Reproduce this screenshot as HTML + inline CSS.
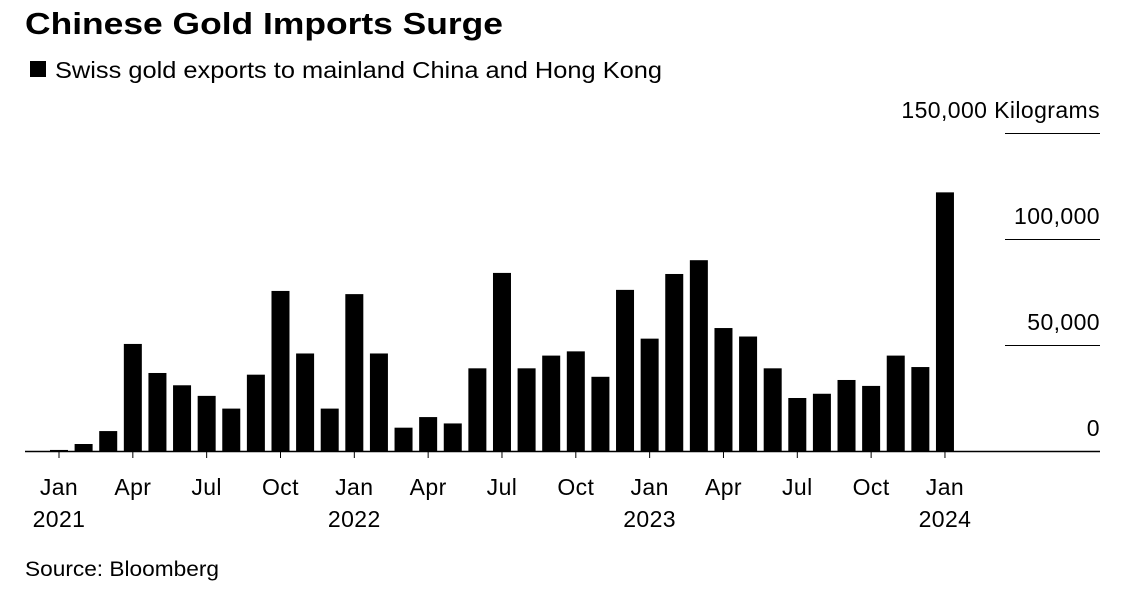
<!DOCTYPE html>
<html><head><meta charset="utf-8"><style>
body{margin:0;background:#fff;font-family:"Liberation Sans",Arial,sans-serif;}
svg text{font-family:"Liberation Sans",Arial,sans-serif;fill:#000;}
</style></head><body>
<svg width="1127" height="589" xmlns="http://www.w3.org/2000/svg">
<text x="25" y="34" font-size="31" font-weight="bold" textLength="478" lengthAdjust="spacingAndGlyphs">Chinese Gold Imports Surge</text>
<rect x="30" y="61" width="16" height="16" fill="#000"/>
<text x="55" y="78" font-size="23" textLength="607" lengthAdjust="spacingAndGlyphs">Swiss gold exports to mainland China and Hong Kong</text>
<g id="grid"></g><g id="bars"></g><g id="xlab"></g>
<line x1="25" y1="451.5" x2="1100" y2="451.5" stroke="#000" stroke-width="1.5"/>
<text x="25" y="576" font-size="21" textLength="194" lengthAdjust="spacingAndGlyphs">Source: Bloomberg</text>
</svg>
<script>
const values=[0.5,3.3,9.4,50.5,36.8,31,26,20,36,75.5,46,20,74,46,11,16,13,39,84,39,45,47,35,76,53,83.5,90,58,54,39,25,27,33.5,30.7,45,39.6,122];
const yTicks=[0,50,100,150];
const yTickLabels=["0","50,000","100,000","150,000 Kilograms"];
const xLabels=[[0,"Jan","2021"],[3,"Apr",""],[6,"Jul",""],[9,"Oct",""],[12,"Jan","2022"],[15,"Apr",""],[18,"Jul",""],[21,"Oct",""],[24,"Jan","2023"],[27,"Apr",""],[30,"Jul",""],[33,"Oct",""],[36,"Jan","2024"]];
const ns="http://www.w3.org/2000/svg";
const y=v=>451-v*2.12;
const x=i=>59+i*24.61;
const g=document.getElementById('grid'),b=document.getElementById('bars'),xl=document.getElementById('xlab');
yTicks.forEach((t,k)=>{
 if(t>0){const l=document.createElementNS(ns,'line');
 l.setAttribute('x1',1005);l.setAttribute('x2',1100);l.setAttribute('y1',y(t)+0.5);l.setAttribute('y2',y(t)+0.5);l.setAttribute('stroke','#000');
 
 
 g.appendChild(l);}
 const tx=document.createElementNS(ns,'text');
 tx.setAttribute('x',1100);tx.setAttribute('y',y(t)-15);tx.setAttribute('text-anchor','end');tx.setAttribute('font-size','23');tx.setAttribute('letter-spacing','0.4');
 tx.textContent=yTickLabels[k];
 
 
 g.appendChild(tx);
});
values.forEach((v,i)=>{
 const r=document.createElementNS(ns,'rect');
 r.setAttribute('x',x(i)-9);r.setAttribute('width',18);r.setAttribute('y',y(v));r.setAttribute('height',451-y(v));r.setAttribute('fill','#000');
 
 
 b.appendChild(r);
});
xLabels.forEach(([i,m,yr])=>{
 const tk=document.createElementNS(ns,'line');
 tk.setAttribute('x1',x(i));tk.setAttribute('x2',x(i));tk.setAttribute('y1',451);tk.setAttribute('y2',458);tk.setAttribute('stroke','#000');
 
 
 xl.appendChild(tk);
 const t=document.createElementNS(ns,'text');
 t.setAttribute('x',x(i));t.setAttribute('y',495);t.setAttribute('text-anchor','middle');t.setAttribute('font-size','23');t.setAttribute('letter-spacing','0.4');
 t.textContent=m;
 
 
 xl.appendChild(t);
 if(yr){const t2=document.createElementNS(ns,'text');
 t2.setAttribute('x',x(i));t2.setAttribute('y',527);t2.setAttribute('text-anchor','middle');t2.setAttribute('font-size','23');t2.setAttribute('letter-spacing','0.4');
 t2.textContent=yr;
 
 
 xl.appendChild(t2);}
});
</script>
</body></html>
